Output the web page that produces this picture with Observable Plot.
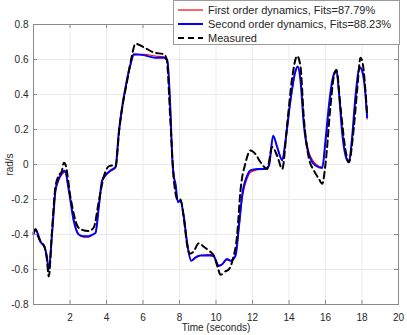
<!DOCTYPE html>
<html>
<head>
<meta charset="utf-8">
<script src="https://cdn.jsdelivr.net/npm/d3@7"></script>
<script src="https://cdn.jsdelivr.net/npm/@observablehq/plot@0.6"></script>
<style>
  html, body { margin: 0; padding: 0; background: #fff; }
  #wrap { position: relative; width: 407px; height: 335px; font-family: "Liberation Sans", Arial, sans-serif; }
  #legend { position: absolute; left: 173px; top: 0px; width: 227px; height: 45px; background: #fff; border: 1px solid #9a9a9a; box-sizing: border-box; }
  #legend svg { display: block; }
</style>
</head>
<body>
<div id="wrap"><div id="chart"></div><div id="legend"></div></div>
<script>
// Time axis for the two model outputs (seconds)
const modelTime = [0.0,0.11,0.25,0.38,0.6,0.72,0.84,1.02,1.2,1.35,1.48,1.72,1.94,2.2,2.48,2.75,3.03,3.25,3.4,3.58,3.76,4.04,4.2,4.49,4.68,4.86,5.04,5.32,5.5,6.04,6.68,7.14,7.33,7.51,7.6,7.69,7.78,7.91,8.05,8.24,8.42,8.64,8.88,9.15,9.7,9.88,10.15,10.34,10.6,10.8,11.07,11.25,11.44,11.71,11.89,12.26,12.71,12.9,13.13,13.35,13.63,13.81,14.08,14.36,14.48,14.63,14.81,15.08,15.45,15.82,16.0,16.18,16.37,16.6,16.73,16.92,17.1,17.28,17.46,17.64,17.88,18.0,18.19,18.28];
// Second order dynamics (blue)
const secondOrder = [-0.40,-0.37,-0.40,-0.44,-0.47,-0.52,-0.60,-0.39,-0.15,-0.09,-0.06,-0.035,-0.15,-0.32,-0.40,-0.41,-0.41,-0.40,-0.39,-0.24,-0.09,-0.05,-0.035,-0.015,0.19,0.33,0.44,0.575,0.63,0.625,0.61,0.61,0.595,0.29,0.04,-0.07,-0.11,-0.215,-0.205,-0.30,-0.45,-0.55,-0.53,-0.52,-0.52,-0.525,-0.58,-0.57,-0.54,-0.55,-0.52,-0.36,-0.17,-0.063,-0.034,-0.025,-0.025,-0.006,0.165,0.10,0.023,0.137,0.366,0.537,0.56,0.48,0.23,0.06,-0.006,-0.02,0.137,0.33,0.48,0.54,0.42,0.175,0.05,0.013,0.156,0.385,0.556,0.537,0.40,0.27];
// First order dynamics (red)
const firstOrder = [-0.40,-0.375,-0.40,-0.44,-0.47,-0.52,-0.59,-0.40,-0.16,-0.10,-0.07,-0.045,-0.15,-0.31,-0.40,-0.415,-0.415,-0.40,-0.39,-0.25,-0.10,-0.055,-0.04,-0.02,0.18,0.32,0.43,0.57,0.625,0.63,0.62,0.615,0.60,0.30,0.05,-0.06,-0.11,-0.21,-0.21,-0.30,-0.44,-0.55,-0.535,-0.52,-0.515,-0.525,-0.575,-0.57,-0.545,-0.55,-0.52,-0.37,-0.19,-0.08,-0.045,-0.03,-0.025,-0.01,0.16,0.10,0.03,0.13,0.36,0.53,0.555,0.49,0.25,0.075,0.005,-0.015,0.13,0.32,0.47,0.53,0.43,0.19,0.06,0.02,0.15,0.375,0.55,0.54,0.41,0.26];
// Measured signal (black dashed)
const measuredTime = [0.0,0.11,0.25,0.38,0.6,0.72,0.84,1.0,1.2,1.4,1.55,1.66,1.75,2.03,2.4,2.58,3.03,3.3,3.58,3.85,4.13,4.3,4.5,4.7,4.9,5.1,5.35,5.59,6.04,6.59,7.14,7.3,7.5,7.7,7.9,8.05,8.24,8.42,8.55,8.75,9.06,9.33,9.7,9.88,10.07,10.25,10.52,10.7,10.9,11.16,11.34,11.62,11.89,12.16,12.44,12.8,13.08,13.35,13.63,13.9,14.18,14.45,14.63,14.81,15.08,15.36,15.63,15.82,16.0,16.27,16.45,16.6,16.82,17.1,17.28,17.55,17.73,17.92,18.07,18.19,18.28];
const measured = [-0.39,-0.37,-0.41,-0.44,-0.47,-0.53,-0.64,-0.40,-0.13,-0.06,-0.04,0.01,0.0,-0.19,-0.35,-0.37,-0.38,-0.36,-0.21,-0.07,-0.01,-0.005,-0.01,0.20,0.35,0.46,0.60,0.69,0.67,0.64,0.63,0.60,0.25,-0.10,-0.20,-0.20,-0.31,-0.46,-0.51,-0.50,-0.45,-0.47,-0.50,-0.52,-0.58,-0.63,-0.61,-0.60,-0.55,-0.40,-0.15,0.01,0.08,0.06,0.013,-0.025,0.10,0.05,-0.025,0.23,0.50,0.62,0.56,0.27,0.04,-0.034,-0.08,-0.11,0.004,0.33,0.50,0.54,0.33,0.08,0.013,0.21,0.42,0.61,0.556,0.42,0.29];

const xTicks = [0,2,4,6,8,10,12,14,16,18,20];
const xTickLabels = ["","2","4","6","8","10","12","14","16","18","20"];
const yTicks = [-0.8,-0.6,-0.4,-0.2,0,0.2,0.4,0.6,0.8];
const yTickLabels = ["-0.8","-0.6","-0.4","-0.2","0","0.2","0.4","0.6","0.8"];

const seriesNames = ["First order dynamics, Fits=87.79%", "Second order dynamics, Fits=88.23%", "Measured"];

const first = modelTime.map((t, i) => ({t, v: firstOrder[i]}));
const second = modelTime.map((t, i) => ({t, v: secondOrder[i]}));
const meas = measuredTime.map((t, i) => ({t, v: measured[i]}));

const axisColor = "#8a8a8a";
const gridColor = "#ebebeb";

const chart = Plot.plot({
  width: 407,
  height: 335,
  marginTop: 24,
  marginRight: 9,
  marginBottom: 31,
  marginLeft: 33,
  style: {fontFamily: "'Liberation Sans', Arial, sans-serif", fontSize: "10px", color: "#262626", background: "#fff"},
  x: {domain: [0, 20]},
  y: {domain: [-0.8, 0.8]},
  marks: [
    Plot.ruleX(xTicks, {stroke: gridColor, strokeWidth: 1}),
    Plot.ruleY(yTicks, {stroke: gridColor, strokeWidth: 1}),
    Plot.line(first, {x: "t", y: "v", stroke: "#ff0000", strokeWidth: 1.2, curve: "monotone-x"}),
    Plot.line(second, {x: "t", y: "v", stroke: "#0000ff", strokeWidth: 2, curve: "monotone-x"}),
    Plot.line(meas, {x: "t", y: "v", stroke: "#000", strokeWidth: 2, strokeDasharray: "6.5,4", curve: "monotone-x"}),
    Plot.frame({stroke: axisColor}),
    Plot.ruleX(xTicks, {stroke: axisColor, insetTop: 276}),
    Plot.ruleX(xTicks, {stroke: axisColor, insetBottom: 276}),
    Plot.ruleY(yTicks, {stroke: axisColor, insetRight: 361}),
    Plot.ruleY(yTicks, {stroke: axisColor, insetLeft: 361}),
    Plot.axisX({ticks: xTicks, tickSize: 0, tickPadding: 9, tickFormat: (d, i) => xTickLabels[xTicks.indexOf(d)], label: "Time (seconds)", labelAnchor: "center", labelArrow: "none", labelOffset: 26, fill: "#262626"}),
    Plot.axisY({ticks: yTicks, tickSize: 0, tickPadding: 5, tickFormat: d => yTickLabels[yTicks.findIndex(v => Math.abs(v - d) < 1e-9)], label: "rad/s", labelAnchor: "center", labelArrow: "none", labelOffset: 28, fill: "#262626"})
  ]
});
document.getElementById("chart").appendChild(chart);

// Legend (inside the axes, top-right)
const lg = d3.select("#legend").append("svg").attr("width", 225).attr("height", 43);
const styles = [
  {stroke: "#ff0000", width: 1.2, dash: null},
  {stroke: "#0000ff", width: 2, dash: null},
  {stroke: "#000", width: 2, dash: "6,4"}
];
seriesNames.forEach((name, i) => {
  const y = 9 + i * 14;
  const ln = lg.append("line").attr("x1", 4).attr("x2", 29).attr("y1", y).attr("y2", y)
    .attr("stroke", styles[i].stroke).attr("stroke-width", styles[i].width);
  if (styles[i].dash) ln.attr("stroke-dasharray", styles[i].dash);
  lg.append("text").attr("x", 34).attr("y", y).attr("dy", "0.35em")
    .attr("font-size", 11).attr("fill", "#262626")
    .attr("font-family", "'Liberation Sans', Arial, sans-serif").text(name);
});
</script>
</body>
</html>
